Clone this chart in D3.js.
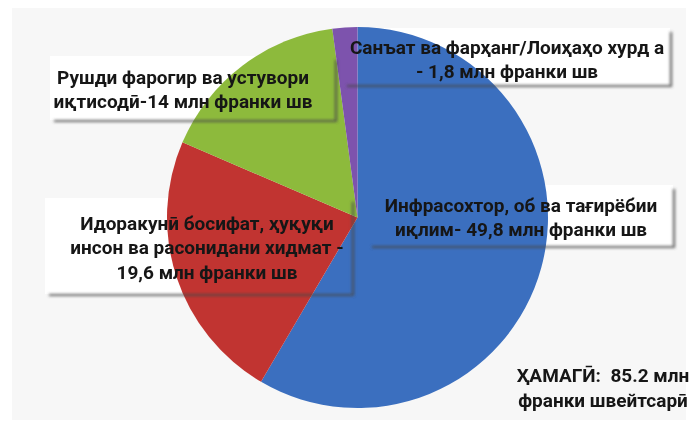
<!DOCTYPE html>
<html>
<head>
<meta charset="utf-8">
<script src="https://cdn.jsdelivr.net/npm/d3@7"></script>
<style>
  html, body { margin: 0; padding: 0; background: #ffffff; }
  svg { display: block; }
  text { font-family: Roboto, "Noto Sans", sans-serif; font-weight: 700; fill: #161616; white-space: pre; }
</style>
</head>
<body>
<svg id="chart" width="690" height="425"></svg>
<script>
// ---- data ----
const categories = [
  "Инфрасохтор, об ва тағирёбии иқлим",
  "Идоракунӣ босифат, ҳуқуқи инсон ва расонидани хидмат",
  "Рушди фарогир ва устувори иқтисодӣ",
  "Санъат ва фарҳанг/Лоиҳаҳо хурд а"
];
const values = [49.8, 19.6, 14, 1.8];
const labelLines = [
  ["Инфрасохтор, об ва тағирёбии", "иқлим- 49,8 млн франки шв"],
  ["Идоракунӣ босифат, ҳуқуқи", "инсон ва расонидани хидмат -", "19,6 млн франки шв"],
  ["Рушди фарогир ва устувори", "иқтисодӣ-14 млн франки шв"],
  ["Санъат ва фарҳанг/Лоиҳаҳо хурд а", "- 1,8 млн франки шв"]
];
const totalLines = ["ҲАМАГӢ:  85.2 млн", "франки швейтсарӣ"];

// ---- layout / style (not data) ----
const colors = ["#3b6fbf", "#c13431", "#8dba3c", "#7d53ad"];
const cx = 357.5, cy = 217.5, radius = 190.5;
const boxes = [
  {x0: 368, y0: 185, x1: 673, y1: 246, tx: 521, ty: 205},
  {x0: 45,  y0: 198, x1: 352, y1: 294, tx: 207, ty: 223},
  {x0: 50,  y0: 56,  x1: 335, y1: 120, tx: 183, ty: 77},
  {x0: 343, y0: 28,  x1: 670, y1: 85,  tx: 507, ty: 47}
];
const lineGap = 24.5;
const fontSize = 19;

const svg = d3.select("#chart");
const defs = svg.append("defs");
defs.append("filter").attr("id", "blur").attr("x", "-50%").attr("y", "-50%").attr("width", "200%").attr("height", "200%")
  .append("feGaussianBlur").attr("stdDeviation", 1.4);

// background panel
svg.append("rect").attr("x", 12).attr("y", 8).attr("width", 674).attr("height", 412).attr("fill", "#f7f7f7");

// box fills (behind pie)
svg.append("g").selectAll("rect").data(boxes).join("rect")
  .attr("x", d => d.x0).attr("y", d => d.y0)
  .attr("width", d => d.x1 - d.x0).attr("height", d => d.y1 - d.y0)
  .attr("fill", "#ffffff");

// pie
const pie = d3.pie().sort(null).value(d => d).startAngle(0).endAngle(2 * Math.PI);
const arc = d3.arc().innerRadius(0).outerRadius(radius);
svg.append("g").attr("transform", `translate(${cx},${cy})`)
  .selectAll("path").data(pie(values)).join("path")
  .attr("d", arc)
  .attr("fill", (d, i) => colors[i]);

// box shadows (bottom and right edges)
const sh = svg.append("g").attr("filter", "url(#blur)");
boxes.forEach(b => {
  sh.append("path")
    .attr("d", `M${b.x0 + 4},${b.y1 + 1} L${b.x1 + 1},${b.y1 + 1} L${b.x1 + 1},${b.y0 + 4}`)
    .attr("fill", "none").attr("stroke", "#4a4a4a").attr("stroke-width", 2.2).attr("opacity", 0.85);
});

// labels
const lg = svg.append("g");
labelLines.forEach((lines, i) => {
  const b = boxes[i];
  lg.append("text")
    .attr("text-anchor", "middle")
    .attr("font-size", fontSize)
    .selectAll("tspan").data(lines).join("tspan")
    .attr("x", b.tx)
    .attr("y", (d, j) => b.ty + j * lineGap)
    .attr("dy", "0.36em")
    .text(d => d);
});

// total
svg.append("text")
  .attr("text-anchor", "middle")
  .attr("font-size", fontSize)
  .selectAll("tspan").data(totalLines).join("tspan")
  .attr("x", 603)
  .attr("y", (d, j) => 375 + j * 25)
  .attr("dy", "0.36em")
  .text(d => d);
</script>
</body>
</html>
